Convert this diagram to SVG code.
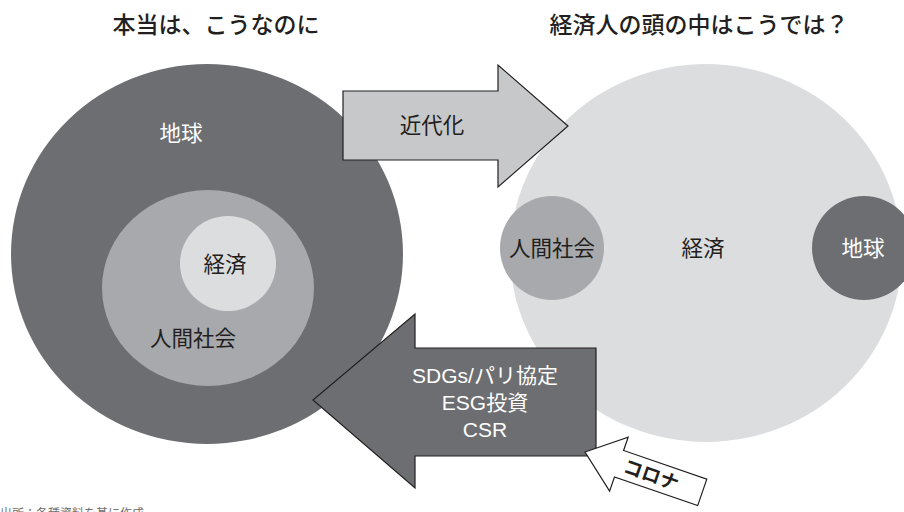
<svg xmlns="http://www.w3.org/2000/svg" width="904" height="512" viewBox="0 0 904 512">
<style>
.t{font-family:"Noto Sans CJK JP","Noto Sans",sans-serif;text-anchor:middle;font-size:21.5px}
.ls{font-family:"Liberation Sans","Noto Sans CJK JP",sans-serif;font-size:21px}
.dk{fill:#231f20}
.wh{fill:#ffffff}
.title{font-size:23px;font-weight:500}
.earth{fill:#6d6e71}
.soc{fill:#a7a9ac}
.eco{fill:#dcdddf}
.arr{stroke:#231f20;stroke-width:1.2;stroke-linejoin:miter}
</style>
<rect width="904" height="512" fill="#ffffff"/>
<g id="title-left"><text class="t title dk" x="216" y="33">本当は、こうなのに</text></g>
<g id="title-right"><text class="t title dk" x="699" y="33">経済人の頭の中はこうでは？</text></g>

<g id="left-earth"><ellipse class="earth" cx="207" cy="254" rx="196" ry="190"/><text class="t wh" x="181" y="141">地球</text></g>
<g id="left-society"><ellipse class="soc" cx="208" cy="288" rx="106" ry="98"/><text class="t dk" x="193" y="346">人間社会</text></g>
<g id="left-economy"><ellipse class="eco" cx="228" cy="263.5" rx="48" ry="47.5"/><text class="t dk" x="225" y="272">経済</text></g>

<g id="right-economy"><ellipse class="eco" cx="706" cy="253" rx="196" ry="189"/><text class="t dk" x="703" y="256">経済</text></g>
<g id="right-society"><circle class="soc" cx="552" cy="248" r="52"/><text class="t dk" x="552" y="256">人間社会</text></g>
<g id="right-earth"><circle class="earth" cx="864" cy="248" r="52"/><text class="t wh" x="863" y="256">地球</text></g>

<g id="connectors">
<g id="arrow-modernization">
<polygon class="arr" fill="#c7c8ca" points="343,91 498,91 498,65 568,126 498,187 498,160 343,160"/>
<text class="t dk" x="432" y="133">近代化</text>
</g>
<g id="arrow-sdgs">
<polygon class="arr" fill="#6d6e71" points="596,348 415,348 415,314 313,400 415,488 415,456 596,456"/>
<text class="t ls wh" x="485" y="383">SDGs/パリ協定</text>
<text class="t ls wh" x="485" y="410">ESG投資</text>
<text class="t ls wh" x="485" y="437">CSR</text>
</g>
<g id="arrow-corona" transform="translate(585,452) rotate(19)">
<polygon class="arr" fill="#ffffff" points="0,0 36,-28 36,-14 124,-14 124,14 36,14 36,29"/>
<text class="t dk" x="70" y="7" style="font-size:19px;font-weight:bold">コロナ</text>
</g>
</g>

<g id="caption"><text x="0" y="518" style="font-family:'Noto Sans CJK JP',sans-serif;font-size:12px;fill:#6d6e71">出所：各種資料を基に作成</text></g>
</svg>
